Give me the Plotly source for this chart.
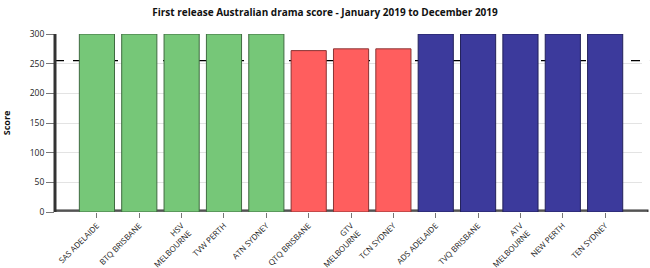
import plotly.graph_objects as go

categories = ["SAS ADELAIDE", "BTQ BRISBANE", "HSV<br>MELBOURNE", "TVW PERTH", "ATN SYDNEY",
              "QTQ BRISBANE", "GTV<br>MELBOURNE", "TCN SYDNEY",
              "ADS ADELAIDE", "TVQ BRISBANE", "ATV<br>MELBOURNE", "NEW PERTH", "TEN SYDNEY"]
scores = [300, 300, 300, 300, 300, 272, 275, 275, 300, 300, 300, 300, 300]
network_colors = ["#76C778"] * 5 + ["#FF5E5E"] * 3 + ["#3C3A9C"] * 5
outline_colors = ["#3F6B40"] * 5 + ["#8A3434"] * 3 + ["#22215A"] * 5
target_score = 255
y_ticks = [0, 50, 100, 150, 200, 250, 300]

fig = go.Figure()
fig.add_trace(go.Bar(
    x=list(range(len(categories))), y=scores,
    marker=dict(color=network_colors, line=dict(color=outline_colors, width=1)),
    width=0.83, hoverinfo="skip",
))

# 3D-like wall and floor
fig.add_shape(type="rect", xref="paper", yref="y", x0=0, x1=1.01, y0=0, y1=3,
              fillcolor="#A0A0A0", line=dict(color="#333333", width=1.2), layer="below")
fig.add_shape(type="line", xref="paper", yref="y", x0=0.0, x1=0.0, y0=0, y1=302,
              line=dict(color="#333333", width=3), layer="above")
# target dashed line
fig.add_shape(type="line", xref="paper", yref="y", x0=0, x1=1.012, y0=target_score, y1=target_score,
              line=dict(color="black", width=1.2, dash="dash"), layer="below")

fig.update_layout(
    width=650, height=268,
    margin=dict(l=55, r=8, t=34, b=56),
    paper_bgcolor="white", plot_bgcolor="white",
    showlegend=False,
    title=dict(text="<b>First release Australian drama score - January 2019 to December 2019</b>",
               x=0.5, xanchor="center", y=0.955, yanchor="middle",
               font=dict(family="Open Sans", size=10, color="#111111")),
    xaxis=dict(range=[-0.99, 12.87], tickmode="array", tickvals=list(range(len(categories))),
               ticktext=categories, tickangle=-45, ticks="outside", ticklen=5, tickcolor="#777777",
               tickfont=dict(family="Open Sans", size=8, color="#222222"),
               showgrid=False, zeroline=False, showline=False, automargin=False),
    yaxis=dict(range=[0, 300], tickvals=y_ticks, ticks="outside", ticklen=8, tickcolor="#777777",
               tickfont=dict(family="Open Sans", size=8.5, color="#222222"),
               gridcolor="#E3E3E3", gridwidth=1, zeroline=False, showline=False, automargin=False,
               title=dict(text="<b>Score</b>", standoff=20,
                          font=dict(family="Open Sans", size=9, color="#111111"))),
)
fig.write_html("out.html")
